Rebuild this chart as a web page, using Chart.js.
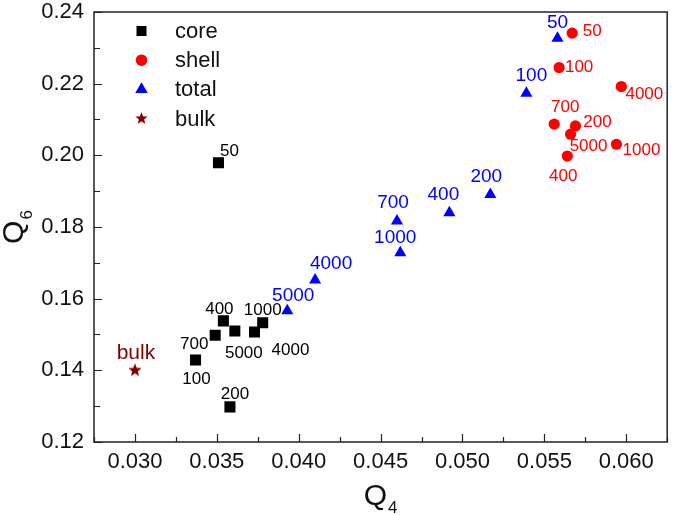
<!DOCTYPE html>
<html><head><meta charset="utf-8">
<script src="https://cdn.jsdelivr.net/npm/chart.js@4/dist/chart.umd.min.js"></script>
<style>html,body{margin:0;padding:0;background:#fff}</style>
</head><body>
<canvas id="c" width="675" height="515"></canvas>
<script>
// ---- data ----
const coreLabels = ['50','400','1000','700','5000','4000','100','200'];
const coreQ4 = [0.0351,0.0354,0.0378,0.0349,0.0361,0.0373,0.0337,0.0358];
const coreQ6 = [0.1979,0.1538,0.1533,0.1498,0.1510,0.1507,0.1429,0.1298];

const shellLabels = ['50','100','4000','700','200','5000','1000','400'];
const shellQ4 = [0.0567,0.0559,0.0597,0.0556,0.0569,0.0566,0.0594,0.0564];
const shellQ6 = [0.2341,0.2245,0.2192,0.2087,0.2082,0.2059,0.2031,0.1998];

const totalLabels = ['50','100','200','400','700','1000','4000','5000'];
const totalQ4 = [0.0558,0.0539,0.0517,0.0492,0.0460,0.0462,0.0410,0.0393];
const totalQ6 = [0.2327,0.2173,0.1891,0.1840,0.1817,0.1728,0.1652,0.1566];

const bulkLabels = ['bulk'];
const bulkQ4 = [0.030];
const bulkQ6 = [0.140];

const seriesNames = ['core','shell','total','bulk'];
const xTickValues = [0.030,0.035,0.040,0.045,0.050,0.055,0.060];
const yTickValues = [0.12,0.14,0.16,0.18,0.20,0.22,0.24];
const xMin = 0.0275, xMax = 0.0625;
const yMin = 0.12, yMax = 0.24;

// ---- presentation (label offsets in px, relative to point) ----
const coreOffsets  = [[11,-12],[-4,-12],[0,-12],[-21,9],[9,22],[36,18],[1,19],[5,-13]];
const shellOffsets = [[20,-2],[20,0],[23,8],[11,-17],[22,-4],[18,12],[25,6],[-4,20]];
const totalOffsets = [[0,-15],[5,-18],[-4,-18],[-6,-18],[-4,-18],[-5,-15],[16,-16],[6,-15]];
const bulkOffsets  = [[1,-17]];

const FONT = "'Liberation Sans', Arial, Helvetica, sans-serif";
const RED = '#ff0000', BLUE = '#0000ff', DARKRED = '#800000';

function makeStar(r, color){
  const s = Math.ceil(r*2)+2;
  const cv = document.createElement('canvas');
  cv.width = s; cv.height = s;
  const c = cv.getContext('2d');
  c.fillStyle = color;
  c.beginPath();
  for (let i=0;i<10;i++){
    const rad = (i%2===0) ? r : r*0.42;
    const a = -Math.PI/2 + i*Math.PI/5;
    const px = s/2 + rad*Math.cos(a), py = s/2 + rad*Math.sin(a);
    if(i===0) c.moveTo(px,py); else c.lineTo(px,py);
  }
  c.closePath(); c.fill();
  return cv;
}
const starImg = makeStar(7, DARKRED);
const starLegend = makeStar(6.5, DARKRED);

function pts(xs, ys){ return xs.map((x,i)=>({x:x, y:ys[i]})); }

const datasets = [
  {label: seriesNames[0], data: pts(coreQ4, coreQ6), pointStyle:'rect', pointRadius:7.8,
   backgroundColor:'#000', borderColor:'#000', borderWidth:0,
   _labels: coreLabels, _offsets: coreOffsets, _lblColor:'#000', _lblSize:17},
  {label: seriesNames[1], data: pts(shellQ4, shellQ6), pointStyle:'circle', pointRadius:5.6,
   backgroundColor:RED, borderColor:RED, borderWidth:0,
   _labels: shellLabels, _offsets: shellOffsets, _lblColor:RED, _lblSize:17},
  {label: seriesNames[2], data: pts(totalQ4, totalQ6), pointStyle:'triangle', pointRadius:7,
   backgroundColor:BLUE, borderColor:BLUE, borderWidth:0,
   _labels: totalLabels, _offsets: totalOffsets, _lblColor:BLUE, _lblSize:19},
  {label: seriesNames[3], data: pts(bulkQ4, bulkQ6), pointStyle:starImg, pointRadius:7,
   backgroundColor:DARKRED, borderColor:DARKRED, borderWidth:0,
   _labels: bulkLabels, _offsets: bulkOffsets, _lblColor:DARKRED, _lblSize:21}
];

function drawMarker(ctx, style, x, y, color){
  ctx.save();
  ctx.fillStyle = color;
  ctx.beginPath();
  if (style==='rect'){ ctx.rect(x-5, y-5, 10, 10); ctx.fill(); }
  else if (style==='circle'){ ctx.arc(x, y, 5.8, 0, Math.PI*2); ctx.fill(); }
  else if (style==='triangle'){ const r=7.2; ctx.moveTo(x, y-r); ctx.lineTo(x+r*0.866, y+r*0.5); ctx.lineTo(x-r*0.866, y+r*0.5); ctx.closePath(); ctx.fill(); }
  else { ctx.drawImage(starLegend, x-starLegend.width/2, y-starLegend.height/2); }
  ctx.restore();
}

const decorPlugin = {
  id: 'decor',
  afterDatasetsDraw(chart){
    const ctx = chart.ctx, a = chart.chartArea;
    const xs = chart.scales.x, ys = chart.scales.y;
    ctx.save();
    // major + minor ticks (inward)
    ctx.strokeStyle = '#222'; ctx.lineWidth = 1.2;
    ctx.beginPath();
    const xHalf = (xTickValues[1]-xTickValues[0])/2;
    for (let k=-1; k<xTickValues.length; k++){
      const base = k<0 ? xTickValues[0] : xTickValues[k];
      if (k>=0){
        const px = Math.round(xs.getPixelForValue(base))+0.5;
        ctx.moveTo(px, a.bottom); ctx.lineTo(px, a.bottom - 8);
      }
      const mv = k<0 ? base - xHalf : base + xHalf;
      if (mv >= xMin-1e-9 && mv <= xMax+1e-9){
        const pm = Math.round(xs.getPixelForValue(mv))+0.5;
        ctx.moveTo(pm, a.bottom); ctx.lineTo(pm, a.bottom - 5);
      }
    }
    const yHalf = (yTickValues[1]-yTickValues[0])/2;
    yTickValues.forEach((v,k)=>{
      const py = Math.round(ys.getPixelForValue(v))+0.5;
      ctx.moveTo(a.left, py); ctx.lineTo(a.left + 8, py);
      if (k < yTickValues.length-1){
        const pm = Math.round(ys.getPixelForValue(v + yHalf))+0.5;
        ctx.moveTo(a.left, pm); ctx.lineTo(a.left + 6, pm);
      }
    });
    ctx.stroke();
    // frame
    ctx.lineWidth = 1.5; ctx.strokeStyle = '#222';
    ctx.strokeRect(a.left, a.top, a.right-a.left, a.bottom-a.top);

    // point labels
    chart.data.datasets.forEach((ds, di)=>{
      const meta = chart.getDatasetMeta(di);
      ctx.fillStyle = ds._lblColor;
      ctx.font = ds._lblSize + 'px ' + FONT;
      ctx.textAlign = 'center'; ctx.textBaseline = 'middle';
      meta.data.forEach((el, j)=>{
        const o = ds._offsets[j];
        ctx.fillText(ds._labels[j], el.x + o[0], el.y + o[1]);
      });
    });

    // legend
    ctx.textAlign = 'left'; ctx.textBaseline = 'middle';
    ctx.font = '22px ' + FONT;
    chart.data.datasets.forEach((ds, di)=>{
      const ly = a.top + 19 + di*29.2;
      drawMarker(ctx, typeof ds.pointStyle === 'string' ? ds.pointStyle : 'star', a.left + 47.5, ly, ds.backgroundColor);
      ctx.fillStyle = '#111';
      ctx.fillText(ds.label, a.left + 81, ly + 1);
    });

    // axis titles
    ctx.fillStyle = '#111';
    ctx.textBaseline = 'alphabetic'; ctx.textAlign = 'left';
    const cx = (a.left + a.right)/2;
    ctx.font = '30px ' + FONT;
    const qw = ctx.measureText('Q').width;
    ctx.font = '17px ' + FONT;
    const sw = ctx.measureText('4').width;
    let x0 = cx - (qw + sw + 1)/2;
    ctx.font = '30px ' + FONT;
    ctx.fillText('Q', x0, 505);
    ctx.font = '17px ' + FONT;
    ctx.fillText('4', x0 + qw + 1, 513);
    // y title
    const cy = (a.top + a.bottom)/2;
    ctx.translate(23, cy + (qw + sw + 1)/2);
    ctx.rotate(-Math.PI/2);
    ctx.font = '30px ' + FONT;
    ctx.fillText('Q', 0, 0);
    ctx.font = '17px ' + FONT;
    ctx.fillText('6', qw + 1, 9);
    ctx.restore();
  }
};

new Chart(document.getElementById('c'), {
  type: 'scatter',
  data: { datasets },
  options: {
    responsive: false,
    animation: false,
    devicePixelRatio: 1,
    layout: { padding: { top: 12, right: 1, left: 0, bottom: 0 } },
    plugins: { legend: { display: false }, tooltip: { enabled: false } },
    scales: {
      x: {
        type: 'linear', min: xMin, max: xMax,
        grid: { display: false, drawTicks: false },
        border: { display: false },
        afterBuildTicks: s => { s.ticks = xTickValues.map(v => ({ value: v })); },
        ticks: { padding: 9, color: '#111', maxRotation: 0, autoSkip: false,
          font: { family: FONT, size: 22, lineHeight: 1 },
          callback: v => v.toFixed(3) },
        afterFit: s => { s.height = 73; s.paddingLeft = 0; s.paddingRight = 0; }
      },
      y: {
        type: 'linear', min: yMin, max: yMax,
        grid: { display: false, drawTicks: false },
        border: { display: false },
        afterBuildTicks: s => { s.ticks = yTickValues.map(v => ({ value: v })); },
        ticks: { padding: 10, color: '#111', autoSkip: false,
          font: { family: FONT, size: 22, lineHeight: 1 },
          callback: v => v.toFixed(2) },
        afterFit: s => { s.width = 94; s.paddingTop = 0; s.paddingBottom = 0; }
      }
    }
  },
  plugins: [decorPlugin]
});
</script>
</body></html>
